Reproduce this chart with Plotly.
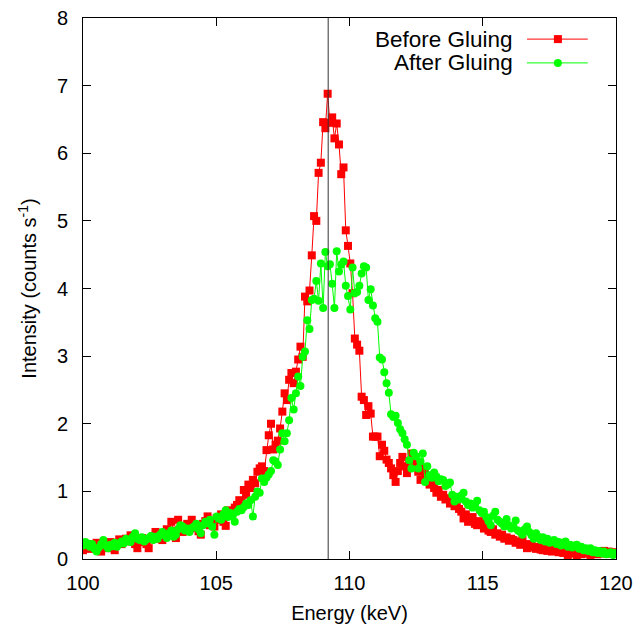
import plotly.graph_objects as go

# Energy channel grid (keV)
E_START = 100.0
E_STEP = 0.085
N_CHANNELS = 236
energy = [round(E_START + E_STEP * i, 3) for i in range(N_CHANNELS)]

before_gluing = [
    0.13, 0.18, 0.22, 0.15, 0.20, 0.17, 0.24, 0.14, 0.11, 0.19,
    0.22, 0.16, 0.25, 0.20, 0.13, 0.24, 0.29, 0.22, 0.27, 0.30,
    0.26, 0.35, 0.28, 0.22, 0.16, 0.27, 0.31, 0.25, 0.22, 0.16,
    0.29, 0.33, 0.40, 0.30, 0.35, 0.28, 0.38, 0.44, 0.36, 0.55,
    0.42, 0.31, 0.58, 0.45, 0.40, 0.48, 0.52, 0.44, 0.58, 0.50,
    0.46, 0.41, 0.36, 0.52, 0.56, 0.63, 0.50, 0.55, 0.48, 0.60,
    0.58, 0.66, 0.55, 0.49, 0.72, 0.64, 0.70, 0.76, 0.80, 0.87,
    0.84, 1.02, 0.95, 1.10, 1.05, 1.17, 1.12, 1.29, 1.34, 1.37,
    1.30, 1.61, 1.83, 2.00, 1.62, 1.69, 1.75, 1.93, 2.18, 2.45,
    2.35, 2.65, 2.75, 2.60, 2.77, 2.95, 3.14, 2.99, 3.88, 3.81,
    3.97, 4.49, 5.07, 5.00, 5.71, 5.86, 6.46, 6.37, 6.88, 6.45,
    6.53, 6.22, 6.44, 6.13, 5.69, 5.79, 4.86, 4.63, 4.37, 3.93,
    3.26, 3.17, 3.08, 2.40, 2.35, 2.13, 2.26, 2.15, 1.81, 1.81,
    1.81, 1.52, 1.69, 1.60, 1.47, 1.42, 1.34, 1.24, 1.14, 1.30,
    1.42, 1.51, 1.37, 1.27, 1.45, 1.56, 1.50, 1.42, 1.29, 1.17,
    1.35, 1.27, 1.20, 1.10, 1.15, 1.05, 0.98, 1.02, 0.92, 0.95,
    0.88, 0.90, 0.82, 0.85, 0.78, 0.80, 0.74, 0.70, 0.60, 0.66,
    0.55, 0.58, 0.62, 0.52, 0.50, 0.56, 0.53, 0.45, 0.48, 0.42,
    0.40, 0.44, 0.36, 0.38, 0.33, 0.36, 0.30, 0.32, 0.27, 0.30,
    0.28, 0.24, 0.26, 0.21, 0.28, 0.22, 0.16, 0.19, 0.22, 0.17,
    0.15, 0.18, 0.14, 0.13, 0.16, 0.12, 0.14, 0.11, 0.15, 0.12,
    0.10, 0.13, 0.09, 0.11, 0.06, 0.10, 0.08, 0.12, 0.04, 0.09,
    0.07, 0.10, 0.08, 0.12, 0.06, 0.09, 0.11, 0.07, 0.10, 0.08,
    0.12, 0.09, 0.11, 0.08, 0.10, 0.09,
]

after_gluing = [
    0.20, 0.25, 0.23, 0.18, 0.22, 0.15, 0.11, 0.17, 0.22, 0.28,
    0.20, 0.16, 0.21, 0.19, 0.24, 0.18, 0.22, 0.26, 0.23, 0.30,
    0.27, 0.25, 0.33, 0.38, 0.30, 0.28, 0.32, 0.26, 0.29, 0.31,
    0.34, 0.28, 0.33, 0.30, 0.36, 0.40, 0.35, 0.31, 0.38, 0.42,
    0.33, 0.36, 0.44, 0.50, 0.48, 0.42, 0.45, 0.40, 0.46, 0.48,
    0.52, 0.44, 0.38, 0.50, 0.55, 0.53, 0.58, 0.48, 0.36, 0.63,
    0.60, 0.58, 0.66, 0.72, 0.62, 0.68, 0.64, 0.55, 0.70, 0.74,
    0.72, 0.77, 0.82, 0.80, 0.87, 0.63, 0.92, 1.00, 0.98, 1.19,
    1.14, 1.20, 1.25, 1.30, 1.46, 1.44, 1.39, 1.62, 1.86, 1.74,
    1.86, 2.05, 2.38, 2.21, 2.45, 2.70, 2.56, 2.99, 3.07, 3.53,
    3.40, 3.83, 3.85, 4.11, 3.82, 4.37, 3.71, 4.54, 4.33, 4.36,
    4.07, 3.71, 4.55, 4.25, 4.35, 4.40, 4.04, 3.89, 3.69, 4.31,
    3.93, 3.95, 4.04, 4.22, 4.33, 4.31, 3.83, 3.99, 3.75, 3.56,
    3.51, 2.98, 2.95, 2.76, 2.60, 2.46, 2.14, 2.10, 2.12, 2.01,
    1.92, 1.86, 1.77, 1.69, 1.46, 1.34, 1.57, 1.52, 1.34, 1.44,
    1.56, 1.14, 1.37, 1.24, 1.20, 1.28, 1.22, 1.15, 1.18, 1.17,
    1.08, 1.10, 1.13, 0.95, 0.85, 0.92, 0.88, 0.94, 0.98, 0.85,
    0.80, 0.82, 0.76, 0.80, 0.86, 0.72, 0.68, 0.70, 0.62, 0.56,
    0.50, 0.64, 0.70, 0.58, 0.55, 0.52, 0.48, 0.59, 0.50, 0.45,
    0.47, 0.57, 0.42, 0.40, 0.36, 0.44, 0.48, 0.40, 0.35, 0.30,
    0.38, 0.33, 0.28, 0.32, 0.26, 0.30, 0.24, 0.27, 0.28, 0.22,
    0.25, 0.20, 0.24, 0.26, 0.18, 0.21, 0.17, 0.20, 0.21, 0.15,
    0.18, 0.13, 0.16, 0.12, 0.16, 0.10, 0.13, 0.09, 0.12, 0.08,
    0.11, 0.07, 0.08, 0.10, 0.06, 0.09,
]

PEAK_ENERGY = 109.2
series_names = ["Before Gluing", "After Gluing"]
x_ticks = [100, 105, 110, 115, 120]
y_ticks = [0, 1, 2, 3, 4, 5, 6, 7, 8]

RED = "#ff0000"
GREEN = "#00ff00"
FONT = "Liberation Sans, Arial, sans-serif"
FS = 20

fig = go.Figure()
fig.add_trace(go.Scatter(
    x=energy, y=before_gluing, mode="lines+markers", name=series_names[0],
    line=dict(color=RED, width=1),
    marker=dict(symbol="square", size=8, color=RED),
    showlegend=False,
))
fig.add_trace(go.Scatter(
    x=energy, y=after_gluing, mode="lines+markers", name=series_names[1],
    line=dict(color=GREEN, width=1),
    marker=dict(symbol="circle", size=8, color=GREEN),
    showlegend=False,
))

fig.add_vline(x=PEAK_ENERGY, line=dict(color="#333333", width=1))

axis_common = dict(
    showline=True, linecolor="black", linewidth=1, mirror="ticks",
    ticks="inside", ticklen=8, tickcolor="black", tickwidth=1,
    showgrid=False, zeroline=False, automargin=False,
    ticklabeloverflow="allow",
    tickfont=dict(family=FONT, size=FS, color="black"),
)
fig.update_xaxes(range=[100, 120], tickvals=x_ticks, ticklabelstandoff=6,
                 title=dict(text="Energy (keV)", font=dict(family=FONT, size=FS, color="black"), standoff=12),
                 **axis_common)
fig.update_yaxes(range=[0, 8], tickvals=y_ticks, ticklabelstandoff=10,
                 title=dict(text="Intensity (counts s<sup>-1</sup>)", font=dict(family=FONT, size=FS, color="black"), standoff=14),
                 **axis_common)

# gnuplot-style key (text left of sample)
legend_rows = [(0.961, RED, "square"), (0.917, GREEN, "circle")]
annotations = []
shapes = []
for name, (yp, col, sym) in zip(series_names, legend_rows):
    annotations.append(dict(x=0.8105, y=yp, xref="paper", yref="paper", text=name,
                            showarrow=False, xanchor="right", yanchor="middle",
                            font=dict(family=FONT, size=22.5, color="black")))
    shapes.append(dict(type="line", xref="paper", yref="paper", x0=0.833, x1=0.947,
                       y0=yp, y1=yp, line=dict(color=col, width=1)))
    dx = 4 / 533
    dy = 4 / 541
    shapes.append(dict(type="rect" if sym == "square" else "circle", xref="paper", yref="paper",
                       x0=0.891 - dx, x1=0.891 + dx, y0=yp - dy, y1=yp + dy,
                       fillcolor=col, line=dict(color=col, width=0)))

fig.update_layout(
    width=636, height=637,
    margin=dict(l=83, r=20, t=18, b=78),
    paper_bgcolor="white", plot_bgcolor="white",
    font=dict(family=FONT, size=FS, color="black"),
    annotations=annotations,
    hovermode=False,
)
for s in shapes:
    fig.add_shape(**s)

# remove the default 8px page margin so the figure sits at the window origin
fig.write_html(
    "out.html",
    config={"displayModeBar": False, "staticPlot": True},
    post_script="document.body.style.margin='0';document.body.style.overflow='hidden';",
)
